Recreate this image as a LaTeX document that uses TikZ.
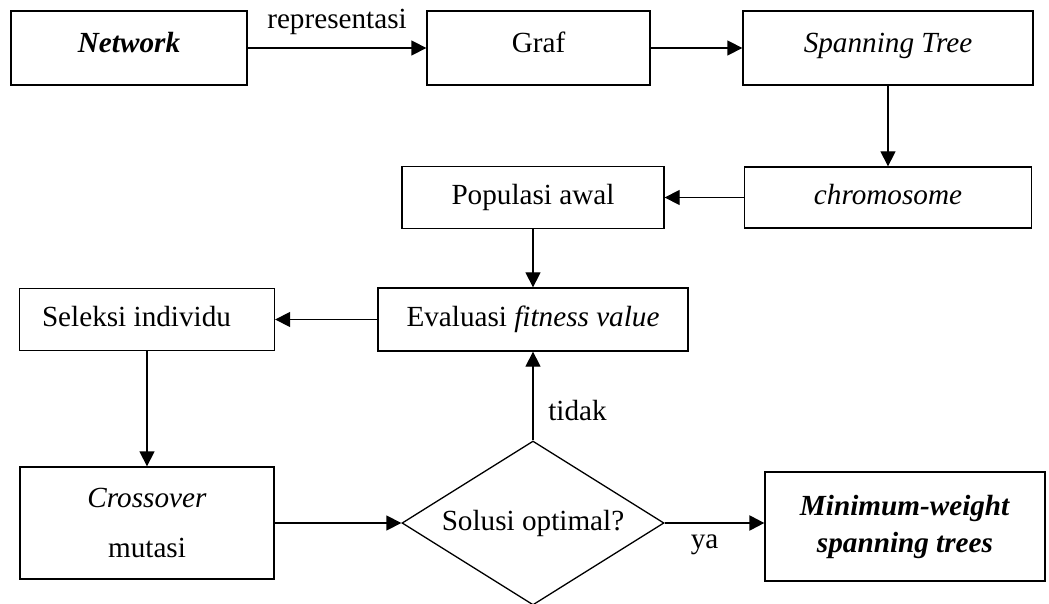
\documentclass[tikz,border=0pt]{standalone}
\usepackage{fontspec}
\setmainfont{Liberation Serif}
\usetikzlibrary{arrows.meta}
\usetikzlibrary{shapes.geometric}

\begin{document}
\begin{tikzpicture}[x=0.5pt,y=-0.5pt,
  every node/.style={font=\fontsize{14.6}{17.5}\selectfont},
  frame/.style={draw,line width=0.65pt,inner sep=0pt},
  box/.style={frame,text height=10pt,text depth=3pt},
  topbox/.style={box,minimum height=37pt,text depth=5pt},
  decision/.style={draw,diamond,line width=0.65pt,inner sep=0pt,aspect=1.6},
  arr/.style={-{Triangle[length=7.5pt,width=7.5pt]},line width=0.65pt}]
  \useasboundingbox (0,0) rectangle (1049,604);
  %top
  \node[topbox,name=network,minimum width=118pt,at={(129,48)}]{\textbf{\textit{Network}}};
  \node[topbox,name=graf,minimum width=111.5pt,at={(538.5,48)}]{Graf};
  \node[topbox,name=spantree,minimum width=145pt,at={(888,48)}]{\textit{Spanning Tree}};
  %middle
  \node[box,name=chromo,minimum width=143.5pt,minimum height=30.5pt,at={(888,197.5)}]{\textit{chromosome}};
  \node[box,name=populasi,minimum width=131pt,minimum height=31pt,at={(533,197.5)}]{Populasi awal};
  \node[box,name=evaluasi,minimum width=155pt,minimum height=31.5pt,at={(533,319.5)}]{Evaluasi \textit{fitness value}};
  \node[box,name=seleksi,minimum width=127.5pt,minimum height=31pt,at={(147,319.5)}]{Seleksi individu\hspace*{10.5pt}};
  %bottom
  \node[frame,name=crossover,minimum width=127pt,minimum height=56pt,align=center,at={(147,523)}]{\textit{Crossover}\\[7.5pt]mutasi};
  \node[decision,name=solusi,minimum width=131pt,minimum height=82pt,at={(533,523)}]{Solusi optimal?};
  \node[frame,name=minw,minimum width=140pt,minimum height=54.5pt,align=center,at={(905,526.5)}]{\textbf{\textit{Minimum-weight}}\\[1pt]\textbf{\textit{spanning trees}}};

  %arrows
  \draw[arr] (network) -- node[name=repr,above=3pt]{representasi} (graf);
  \draw[arr] (graf) -- (spantree);
  \draw[arr] (spantree) -- (chromo);
  \draw[arr] (chromo) -- (populasi);
  \draw[arr] (populasi) -- (evaluasi);
  \draw[arr] (evaluasi) -- (seleksi);
  \draw[arr] (seleksi) -- (crossover);
  \draw[arr] (crossover) -- (solusi);
  \draw[arr] (solusi) -- node[name=tidak,right=4pt,pos=0.34]{tidak} (evaluasi);
  \draw[arr,line width=1.15pt] (solusi.east) -- node[name=ya,below=2pt,pos=0.4]{ya} (solusi.east -| minw.west);
\end{tikzpicture}
\end{document}
